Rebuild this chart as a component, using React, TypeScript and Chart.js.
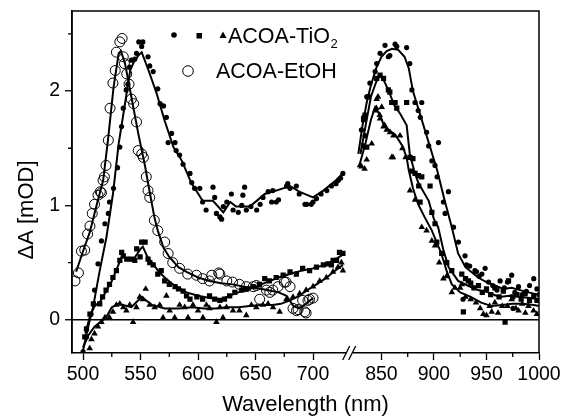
import React, { useEffect, useRef } from "react";
import { Chart, registerables } from "chart.js";

Chart.register(...registerables);

// ---------- data: [wavelength (nm), ΔA (mOD)] ----------
const tioDotsVis: [number, number][] = [
  [500,-0.28],[503,-0.15],[507,0.05],[510,0.26],[513,0.49],[516,0.69],[519,0.84],[522,0.93],[523,1.03],[526.5,1.15],
  [530,1.33],[532,1.51],[533.5,1.69],[535,1.85],[537.5,2.01],[539,2.06],[540.5,2.21],[542,2.27],[545,2.28],[546.5,2.33],
  [548.5,2.43],[551,2.39],[552,2.43],[556.5,2.30],[558,2.22],[561,2.17],[565,2.02],[567,1.89],[570,1.87],[572.5,1.77],
  [574,1.55],[577,1.63],[580,1.55],[581,1.48],[584,1.44],[587,1.36],[593,1.28],[594.5,1.20],[597,1.15],[601.5,1.15],
  [604,1.03],[607,0.96],[613,1.16],[614.5,1.07],[616,0.93],[619,0.90],[620.5,0.88],[622,0.99],[625,1.03],[629,1.10],
  [630.5,0.96],[635,0.94],[638,1.00],[639,1.09],[640.5,1.16],[642,0.96],[646,0.99],[651,0.96],[654,1.01],[656.5,1.07],
  [661,1.12],[664,1.03],[665,1.13],[668,1.03],[670,1.05],[677,1.17],[678,1.19],[680,1.15],[685.5,1.17],[688,1.10],
  [693,1.01],[694.5,1.01],[698.5,1.01],[700,1.03],[703,1.06],[707,1.10],[712,1.13],[716,1.17],[720,1.19],[722,1.22],
  [724,1.24],[726,1.28]
];
const tioDotsVisFit: [number, number][] = [
  [500,-0.27],[504,-0.08],[508.7,0.11],[514.5,0.43],[520.3,0.72],[526,1.1],[531,1.54],[536.5,1.89],[541,2.18],[544,2.25],
  [548,2.31],[551,2.34],[557,2.18],[564,1.98],[571,1.74],[578.6,1.51],[586,1.39],[594,1.2],[604,1.04],[613,1.04],
  [622,0.94],[628,1.03],[633,0.99],[645,0.99],[651,1.04],[658,1.10],[668,1.13],[680,1.17],[688,1.12],[700,1.07],
  [709,1.13],[720,1.22],[726,1.28]
];
const tioDotsNir: [number, number][] = [
  [831,1.66],[833,1.77],[834.4,1.61],[836,1.95],[839,2.07],[844,2.17],[845.5,2.24],[848.7,2.33],[853.4,2.40],[856.6,2.30],
  [858,2.31],[863,2.41],[864.6,2.39],[874,2.38],[877,2.24],[879,2.01],[882,1.90],[885,1.83],[887,1.77],[888.4,1.90],
  [893,1.64],[895,1.52],[898,1.39],[901,1.35],[903,1.25],[904.3,1.55],[909,1.03],[910.6,0.93],[913.8,1.12],[918.6,0.81],
  [923.3,0.68],[927.7,0.18],[929.6,0.56],[931,0.48],[934,0.47],[939,0.43],[940.5,0.42],[943,0.38],[945.6,0.40],[948.7,0.45],
  [952,0.33],[956,0.30],[960,0.26],[963,0.34],[967,0.28],[970,0.33],[974,0.39],[975.3,0.10],[977,0.24],[980.5,0.29],
  [984,0.22],[988,0.25],[991,0.30],[995,0.36],[998,0.27],[1000,0.22]
];
const tioDotsNirFit: [number, number][] = [
  [828,1.45],[832,1.7],[836,1.9],[840,2.05],[845,2.2],[850,2.3],[855,2.35],[860,2.37],[866,2.36],[872,2.3],
  [876,2.2],[880,2.0],[885,1.85],[890,1.7],[895,1.55],[900,1.4],[903,1.31],[910,1.05],[917,0.81],[923,0.58],
  [930,0.46],[942,0.37],[950,0.33],[958,0.3],[966,0.27],[974,0.28],[982,0.26],[990,0.24],[1000,0.22]
];

const tioSquaresVis: [number, number][] = [
  [501.5,-0.15],[503,-0.08],[506,0.05],[509,0.14],[514.5,0.14],[517,0.20],[520,0.26],[523,0.31],[526,0.37],[529,0.43],
  [532,0.52],[533.6,0.59],[535,0.56],[538,0.53],[542,0.53],[545,0.52],[546.7,0.62],[549.6,0.55],[551,0.68],[554,0.68],
  [556.5,0.53],[558,0.50],[561,0.48],[565,0.40],[568,0.43],[571,0.34],[575,0.31],[580,0.29],[583,0.27],[587,0.25],
  [590,0.21],[593,0.18],[599,0.20],[604,0.18],[610,0.21],[614.5,0.18],[619,0.17],[623,0.18],[627.5,0.21],[632,0.24],
  [638,0.26],[642,0.27],[648,0.29],[653.5,0.31],[658,0.36],[662,0.34],[668,0.37],[674,0.39],[680,0.42],[685.5,0.40],
  [691,0.45],[697,0.43],[703,0.46],[709,0.48],[713,0.49],[716,0.48],[717.5,0.52],[720.5,0.52],[723,0.59],[726,0.58]
];
const tioSquaresVisFit: [number, number][] = [
  [502,-0.12],[506,0.03],[510,0.12],[515,0.16],[520,0.25],[525,0.34],[530,0.46],[534,0.56],[538,0.53],[544,0.53],
  [550,0.62],[552,0.64],[556,0.55],[560,0.50],[566,0.42],[571,0.37],[577,0.32],[583,0.28],[590,0.24],[600,0.21],
  [610,0.19],[620,0.18],[630,0.22],[640,0.26],[650,0.29],[660,0.33],[670,0.37],[680,0.40],[690,0.43],[700,0.45],
  [710,0.48],[718,0.52],[726,0.57]
];
const tioSquaresNir: [number, number][] = [
  [832.9,1.52],[836,1.51],[833,1.75],[834.4,1.79],[837.6,1.95],[845.5,2.11],[848.7,2.14],[852,2.11],[856.6,2.01],[858,1.99],
  [859.8,1.90],[863,1.90],[864.6,1.85],[874,1.90],[877.2,1.42],[879,1.30],[880,1.41],[882,1.28],[885.2,1.26],[885.5,1.17],
  [886.8,1.03],[888.4,1.25],[896.3,1.17],[898,0.94],[901,0.84],[902.7,0.68],[907.4,0.58],[912.2,0.50],[917,0.43],[926.5,0.40],
  [928,0.07],[930,0.36],[932.8,0.34],[935,0.32],[938,0.28],[942.4,0.30],[946,0.24],[950,0.27],[954,0.22],[958,0.28],
  [962,0.20],[966,0.25],[967.7,-0.02],[971,0.34],[975,0.20],[979,0.22],[983,0.18],[986.8,0.23],[991,0.17],[995,0.21],
  [998,0.17]
];
const tioSquaresNirFit: [number, number][] = [
  [830,1.45],[835,1.7],[840,1.95],[845,2.08],[849,2.14],[853,2.08],[857,2.0],[862,1.88],[868,1.8],[874,1.7],
  [877,1.45],[881,1.31],[885,1.2],[890,1.12],[895,1.04],[900,0.88],[904,0.81],[909,0.61],[914,0.46],[923,0.34],
  [932,0.3],[942,0.26],[952,0.24],[962,0.2],[972,0.21],[982,0.2],[992,0.19],[1000,0.18]
];

const tioTrianglesVis: [number, number][] = [
  [500,-0.28],[505.8,-0.25],[507.3,-0.17],[510,-0.12],[513,-0.06],[516,-0.02],[519,0.02],[523,0.02],[526,0.07],[529,0.13],
  [532,0.14],[535,0.11],[537.7,0.08],[540.6,0.13],[543.5,-0.02],[546.4,0.11],[549.3,0.20],[552,0.18],[554.5,0.27],[558,0.13],
  [562.3,0.11],[566.7,0.13],[569.6,0.02],[572.5,0.21],[575.4,0.08],[579.7,0.02],[584,0.13],[588.4,0.11],[591.3,0.02],[595.6,0.13],
  [600,0.08],[604.3,0.02],[607.3,0.13],[610,0.10],[616,-0.02],[619,0.11],[621.7,0.02],[624.7,0.11],[630.4,0.08],[636,0.08],
  [642,0.04],[646.4,0.13],[650.7,0.11],[656.5,0.13],[660.9,0.14],[665.2,0.11],[671,0.07],[676.8,0.18],[682.6,0.20],[688.4,0.23],
  [694,0.26],[700,0.29],[705.8,0.34],[711.6,0.37],[717.4,0.42],[721.7,0.46],[724.7,0.50],[726,0.43]
];
const tioTrianglesVisFit: [number, number][] = [
  [500,-0.24],[505,-0.13],[510,-0.06],[515,-0.02],[520,0.02],[525,0.11],[531,0.14],[542,0.11],[551,0.20],[560,0.13],
  [571,0.10],[583,0.10],[595,0.11],[605,0.10],[615,0.10],[625,0.11],[635,0.11],[645,0.12],[655,0.13],[665,0.13],
  [672,0.14],[680,0.17],[688,0.21],[695,0.26],[700,0.29],[706,0.33],[712,0.37],[718,0.42],[726,0.48]
];
const tioTrianglesNir: [number, number][] = [
  [829.6,1.35],[831,1.34],[834,1.32],[836,1.40],[840.8,1.54],[844,1.83],[845.2,1.85],[845.5,1.93],[846.8,1.95],[848.4,1.79],
  [848.7,1.76],[850.3,1.86],[852,1.69],[853.1,1.70],[855,1.66],[858.2,1.64],[859.8,1.42],[861,1.42],[861.4,1.61],[867.7,1.61],
  [870,1.50],[873,1.42],[877.2,1.13],[882,1.05],[888.4,0.81],[893,0.78],[898,0.69],[901,0.65],[905,0.50],[909,0.36],
  [912,0.38],[917,0.24],[920,0.28],[925,0.28],[926.5,0.31],[930,0.20],[935,0.18],[940,0.15],[944,0.10],[947,0.05],
  [950,0.04],[953,0.12],[955,0.07],[958,0.15],[961,0.06],[965,0.12],[970,0.12],[974,0.18],[978,0.10],[980.5,0.08],
  [984,0.14],[987,0.06],[990,0.12],[994.8,0.08],[998,0.05]
];
const tioTrianglesNirFit: [number, number][] = [
  [829,1.35],[835,1.55],[840,1.75],[844,1.86],[848,1.8],[852,1.71],[857,1.66],[863,1.62],[870,1.52],[874,1.42],
  [876,1.31],[880,1.15],[885,1.01],[891,0.9],[898,0.78],[907,0.58],[912,0.43],[917,0.31],[925,0.24],[935,0.2],
  [945,0.15],[955,0.12],[965,0.13],[975,0.14],[985,0.14],[995,0.13],[1000,0.12]
];

const etohCircles: [number, number][] = [
  [493,0.34],[496,0.41],[498.6,0.60],[501.5,0.61],[504,0.75],[506,0.82],[508,0.93],[510,1.01],[513,1.09],[515,1.12],
  [516,1.11],[517.4,1.22],[518.6,1.25],[520,1.35],[522,1.57],[523.5,1.85],[526,2.07],[528,2.18],[529,2.34],[532,2.43],
  [534,2.46],[535,2.30],[536,2.24],[538,2.15],[540,2.06],[542,1.93],[544,1.89],[546.5,1.73],[548,1.48],[551,1.45],
  [552.5,1.42],[555,1.25],[556.5,1.13],[558,1.07],[562,0.87],[565,0.78],[571,0.68],[574,0.58],[578,0.50],[584,0.45],
  [591,0.40],[598.6,0.39],[604,0.36],[610,0.34],[612,0.39],[618,0.41],[619,0.40],[625,0.34],[630,0.33],[636,0.31],
  [642,0.29],[648,0.29],[650.7,0.30],[653.6,0.18],[659.5,0.26],[662.4,0.24],[665,0.26],[669.6,0.29],[675,0.33],[676.5,0.33],
  [680,0.29],[682.6,0.10],[685.6,0.08],[687,0.09],[691,0.17],[692.8,0.07],[694,0.06],[695.6,0.17],[697,0.18],[700,0.19]
];
const etohFit: [number, number][] = [
  [494,0.42],[500,0.6],[506,0.77],[512,1.01],[517.5,1.22],[522,1.6],[526.5,2.03],[531,2.33],[533,2.35],[536.5,2.24],
  [542,1.95],[548,1.63],[554,1.34],[557,1.17],[562,0.9],[565,0.78],[570,0.63],[575,0.55],[583,0.46],[590,0.42],
  [600,0.37],[610,0.34],[620,0.32],[630,0.31],[640,0.29],[650,0.28],[660,0.26],[670,0.24],[677,0.21],[683,0.12],
  [688,0.10],[694,0.14],[700,0.19]
];

// ---------- axes ----------
const visRange = [490.4, 731.9];
const nirRange = [819.8, 1000];
const visTicks = [500, 550, 600, 650, 700];
const nirTicks = [850, 900, 950, 1000];
const visMinorTicks = [525, 575, 625, 675];
const nirMinorTicks = [875, 925, 975];
const yRange = [-0.29, 2.7];
const yTicks = [0, 1, 2];
const yMinorTicks = [0.5, 1.5, 2.5];

const FONT = "'Liberation Sans', Arial, Helvetica, sans-serif";
const INK = "#000000";

const toPts = (arr: [number, number][]) => arr.map(([x, y]) => ({ x, y }));

function pointsSet(data: [number, number][], axis: string, style: string, radius: number, hollow = false) {
  return {
    data: toPts(data),
    xAxisID: axis,
    yAxisID: "y",
    showLine: false,
    pointStyle: style,
    pointRadius: radius,
    pointBackgroundColor: hollow ? "rgba(0,0,0,0)" : INK,
    pointBorderColor: INK,
    pointBorderWidth: hollow ? 1 : 0,
  };
}
function lineSet(data: [number, number][], axis: string) {
  return {
    data: toPts(data),
    xAxisID: axis,
    yAxisID: "y",
    showLine: true,
    borderColor: INK,
    borderWidth: 2,
    pointRadius: 0,
    tension: 0,
  };
}

const xAxis = (range: number[], ticks: number[], weight: number) => ({
  type: "linear",
  position: "bottom",
  stack: "wavelength",
  stackWeight: weight,
  min: range[0],
  max: range[1],
  afterBuildTicks: (s: any) => {
    s.ticks = ticks.map((v) => ({ value: v }));
  },
  afterFit: (s: any) => {
    s.height = 67;
    s.paddingLeft = 0;
    s.paddingRight = 0;
  },
  ticks: {
    color: INK,
    font: { family: FONT, size: 19.5 },
    padding: 3,
    maxRotation: 0,
    autoSkip: false,
    callback: (v: any) => String(v),
  },
  grid: {
    display: true,
    drawOnChartArea: false,
    drawTicks: true,
    tickLength: 7,
    tickColor: INK,
    tickWidth: 1.3,
    color: INK,
  },
  border: { display: true, color: INK, width: 1.5 },
});

const decorPlugin = {
  id: "decor",
  afterDraw(chart: any) {
    const ctx = chart.ctx;
    const { left, right, top, bottom } = chart.chartArea;
    const xL = chart.scales.xL;
    const xR = chart.scales.xR;
    const y = chart.scales.y;
    ctx.save();
    ctx.strokeStyle = INK;
    ctx.fillStyle = INK;
    // frame (left, top, right)
    ctx.lineWidth = 1.5;
    ctx.beginPath();
    ctx.moveTo(left, bottom);
    ctx.lineTo(left, top);
    ctx.lineTo(right, top);
    ctx.lineTo(right, bottom);
    ctx.stroke();
    // minor ticks
    ctx.lineWidth = 1.3;
    ctx.beginPath();
    for (const v of visMinorTicks) {
      const px = xL.getPixelForValue(v);
      ctx.moveTo(px, bottom);
      ctx.lineTo(px, bottom + 4);
    }
    for (const v of nirMinorTicks) {
      const px = xR.getPixelForValue(v);
      ctx.moveTo(px, bottom);
      ctx.lineTo(px, bottom + 4);
    }
    for (const v of yMinorTicks) {
      const py = y.getPixelForValue(v);
      ctx.moveTo(left, py);
      ctx.lineTo(left - 4, py);
    }
    ctx.stroke();
    // axis break
    const bx = xL.right;
    ctx.fillStyle = "#ffffff";
    ctx.fillRect(bx - 3, bottom - 2, 6, 4);
    ctx.strokeStyle = INK;
    ctx.lineWidth = 1.3;
    ctx.beginPath();
    ctx.moveTo(bx - 7, bottom + 7);
    ctx.lineTo(bx, bottom - 7);
    ctx.moveTo(bx - 1, bottom + 7);
    ctx.lineTo(bx + 6, bottom - 7);
    ctx.stroke();

    // axis titles
    ctx.fillStyle = INK;
    ctx.font = `22px ${FONT}`;
    ctx.textAlign = "center";
    ctx.textBaseline = "middle";
    ctx.fillText("Wavelength (nm)", (left + right) / 2, 405);
    ctx.save();
    ctx.translate(27, 210);
    ctx.rotate(-Math.PI / 2);
    ctx.fillText("ΔA [mOD]", 0, 0);
    ctx.restore();

    // legend
    ctx.beginPath();
    ctx.arc(174, 35, 2.8, 0, Math.PI * 2);
    ctx.fill();
    ctx.fillRect(196.5, 33, 5.5, 5.5);
    ctx.beginPath();
    ctx.moveTo(223, 31.5);
    ctx.lineTo(226.5, 38);
    ctx.lineTo(219.5, 38);
    ctx.closePath();
    ctx.fill();
    ctx.font = `21.5px ${FONT}`;
    ctx.textAlign = "left";
    ctx.textBaseline = "alphabetic";
    ctx.fillText("ACOA-TiO", 228, 43);
    const w = ctx.measureText("ACOA-TiO").width;
    ctx.font = `13px ${FONT}`;
    ctx.fillText("2", 228 + w + 0.5, 48);
    ctx.lineWidth = 1;
    ctx.beginPath();
    ctx.arc(188, 71, 5.3, 0, Math.PI * 2);
    ctx.stroke();
    ctx.font = `21.5px ${FONT}`;
    ctx.fillText("ACOA-EtOH", 216, 78);
    ctx.restore();
  },
};

export default function App() {
  const canvasRef = useRef<HTMLCanvasElement | null>(null);

  useEffect(() => {
    document.body.style.margin = "0";
    const canvas = canvasRef.current;
    if (!canvas) return;
    const chart = new Chart(canvas, {
      type: "scatter",
      data: {
        datasets: [
          lineSet(tioDotsVisFit, "xL"),
          lineSet(tioSquaresVisFit, "xL"),
          lineSet(tioTrianglesVisFit, "xL"),
          lineSet(etohFit, "xL"),
          lineSet(tioDotsNirFit, "xR"),
          lineSet(tioSquaresNirFit, "xR"),
          lineSet(tioTrianglesNirFit, "xR"),
          pointsSet(tioDotsVis, "xL", "circle", 2.6),
          pointsSet(tioSquaresVis, "xL", "rect", 3.7),
          pointsSet(tioTrianglesVis, "xL", "triangle", 3.8),
          pointsSet(etohCircles, "xL", "circle", 5, true),
          pointsSet(tioDotsNir, "xR", "circle", 2.6),
          pointsSet(tioSquaresNir, "xR", "rect", 3.7),
          pointsSet(tioTrianglesNir, "xR", "triangle", 3.8),
        ] as any,
      },
      options: {
        responsive: false,
        maintainAspectRatio: false,
        devicePixelRatio: 1,
        animation: false,
        events: [],
        layout: { padding: { top: 11, right: 23, left: 0, bottom: 0 } },
        plugins: {
          legend: { display: false },
          tooltip: { enabled: false },
        },
        scales: {
          xL: xAxis(visRange, visTicks, 277.7),
          xR: xAxis(nirRange, nirTicks, 189.3),
          y: {
            type: "linear",
            position: "left",
            min: yRange[0],
            max: yRange[1],
            afterBuildTicks: (s: any) => {
              s.ticks = yTicks.map((v) => ({ value: v }));
            },
            afterFit: (s: any) => {
              s.width = 72;
              s.paddingTop = 0;
              s.paddingBottom = 0;
            },
            ticks: {
              color: INK,
              font: { family: FONT, size: 19.5 },
              padding: 5,
              callback: (v: any) => String(v),
            },
            grid: {
              drawOnChartArea: true,
              color: (c: any) => (c.tick && c.tick.value === 0 ? INK : "rgba(0,0,0,0)"),
              lineWidth: 1.5,
              tickColor: INK,
              tickLength: 7,
              tickWidth: 1.3,
            },
            border: { display: true, color: INK, width: 1.5 },
          },
        } as any,
      },
      plugins: [decorPlugin],
    });
    return () => chart.destroy();
  }, []);

  return (
    <div style={{ width: 562, height: 420 }}>
      <canvas ref={canvasRef} width={562} height={420} style={{ display: "block", width: 562, height: 420 }} />
    </div>
  );
}
